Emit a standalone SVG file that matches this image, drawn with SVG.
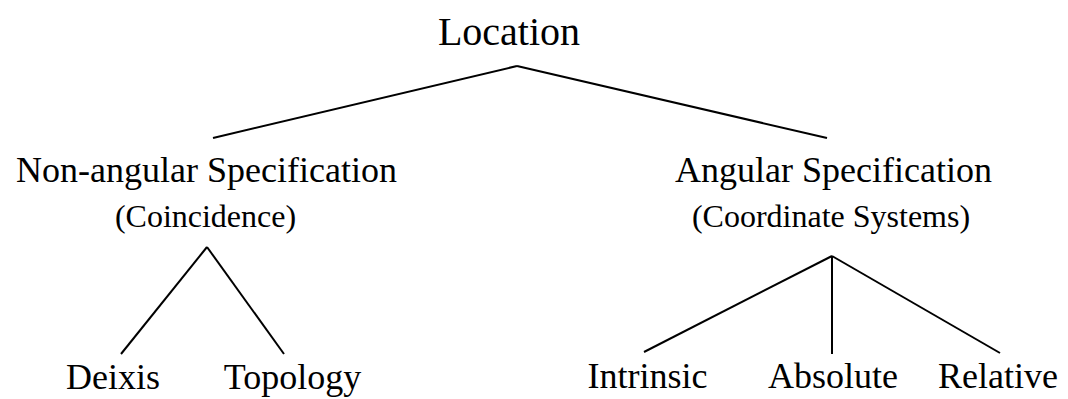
<svg xmlns="http://www.w3.org/2000/svg" width="1068" height="399" viewBox="0 0 1068 399">
<style>
text{font-family:"Liberation Serif","Times New Roman",serif;fill:#000;text-anchor:middle}
.t0{font-size:40px}.t1{font-size:36px}.t2{font-size:32px}
line{stroke:#000;stroke-width:2;fill:none}
</style>
<rect width="1068" height="399" fill="#fff"/>
<g id="connectors">
<line x1="517" y1="66" x2="213" y2="138"/>
<line x1="517" y1="66" x2="827" y2="138"/>
<line x1="207" y1="247" x2="121" y2="354"/>
<line x1="207" y1="247" x2="284" y2="354"/>
<line x1="832" y1="256" x2="644" y2="352"/>
<line x1="832" y1="256" x2="832" y2="354"/>
<line x1="832" y1="256" x2="1000" y2="353"/>
</g>
<g id="location"><text class="t0" x="509" y="45">Location</text></g>
<g id="nonangular"><text class="t1" x="206.5" y="182">Non-angular Specification</text><text class="t2" x="205.5" y="227">(Coincidence)</text></g>
<g id="angular"><text class="t1" x="833.5" y="182">Angular Specification</text><text class="t2" x="831" y="227">(Coordinate Systems)</text></g>
<g id="deixis"><text class="t1" x="113" y="389">Deixis</text></g>
<g id="topology"><text class="t1" x="292.5" y="389">Topology</text></g>
<g id="intrinsic"><text class="t1" x="647.5" y="388">Intrinsic</text></g>
<g id="absolute"><text class="t1" x="833" y="388">Absolute</text></g>
<g id="relative"><text class="t1" x="998" y="388">Relative</text></g>
</svg>
